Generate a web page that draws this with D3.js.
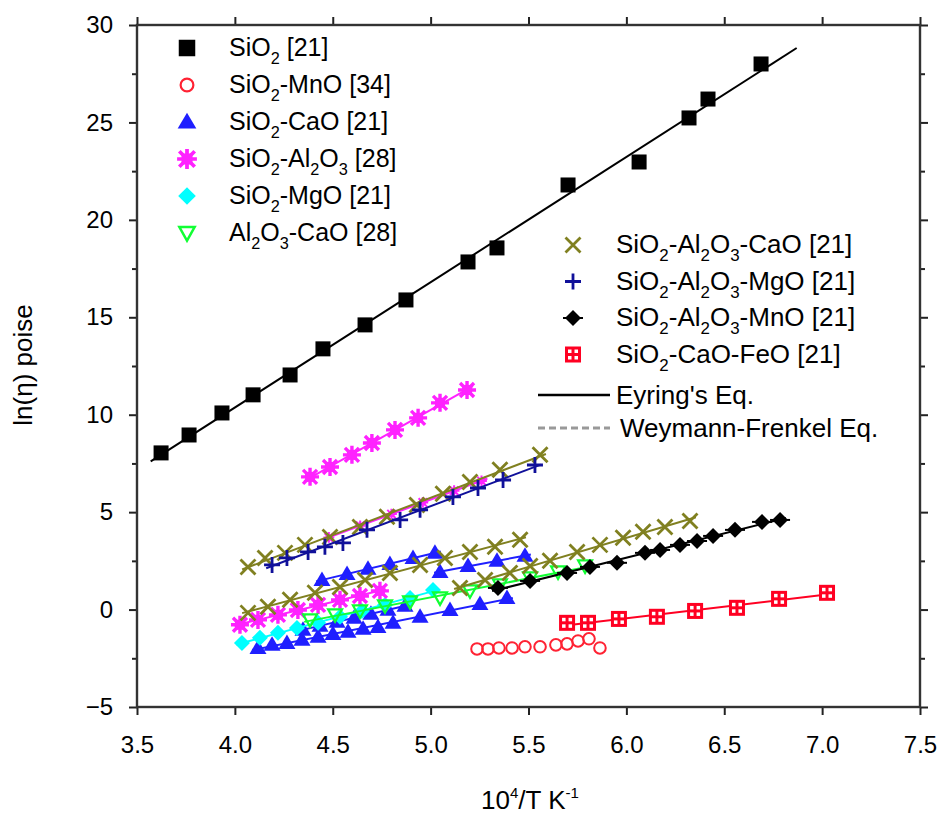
<!DOCTYPE html>
<html><head><meta charset="utf-8">
<script src="https://cdn.jsdelivr.net/npm/d3@7"></script>
<style>body{margin:0;background:#fff}svg{display:block}text{font-family:"Liberation Sans",Arial,sans-serif}</style>
</head><body><svg id="c" width="942" height="815"></svg>
<script>
// ---- Data (x = 10^4/T K^-1, y = ln(eta) poise) ----
const xTicks = [3.5,4.0,4.5,5.0,5.5,6.0,6.5,7.0,7.5];
const yTicks = [-5,0,5,10,15,20,25,30];
const yMinor = [-2.5,2.5,7.5,12.5,17.5,22.5,27.5];

const sio2X = [3.623,3.766,3.934,4.093,4.282,4.450,4.665,4.874,5.191,5.339,5.702,6.065,6.320,6.417,6.688];
const sio2Y = [8.04,8.96,10.09,11.02,12.04,13.38,14.61,15.89,17.84,18.56,21.79,22.97,25.23,26.20,28.0];
const sio2Fit = [3.57,6.87];

const mnoX = [5.237,5.293,5.349,5.416,5.482,5.559,5.640,5.697,5.753,5.809,5.865];
const mnoY = [-2.02,-2.02,-1.97,-1.97,-1.91,-1.91,-1.81,-1.76,-1.61,-1.50,-1.97];

const caoAX = [4.445,4.573,4.680,4.792,4.910,5.022];
const caoAY = [1.52,1.83,2.09,2.34,2.65,2.91];
const caoBX = [5.048,5.191,5.339,5.482];
const caoBY = [1.93,2.24,2.50,2.76];
const caoCX = [4.118,4.190,4.266,4.343,4.425,4.501,4.578,4.655,4.731,4.808,4.946,5.099,5.252,5.390];
const caoCY = [-1.97,-1.81,-1.71,-1.55,-1.40,-1.25,-1.14,-0.99,-0.89,-0.68,-0.37,-0.02,0.29,0.60];
const caoDX = [4.348,4.435,4.522,4.609,4.695,4.782,4.869];
const caoDY = [-1.04,-0.83,-0.62,-0.42,-0.22,-0.01,0.19];

const alAX = [4.384,4.486,4.598,4.700,4.818,4.936,5.048,5.186];
const alAY = [6.81,7.32,7.94,8.55,9.22,9.84,10.61,11.27];
const alBX = [4.026,4.118,4.220,4.322,4.425,4.537,4.639,4.741];
const alBY = [-0.78,-0.53,-0.27,-0.02,0.24,0.50,0.70,0.96];
const alCX = [4.48,4.64,4.80,4.96,5.12,5.26];
const alCY = [3.70,4.30,4.90,5.50,6.10,6.60];

const mgoX = [4.036,4.128,4.220,4.317,4.425,4.537,4.649,4.767,4.895,5.012];
const mgoY = [-1.71,-1.45,-1.19,-0.94,-0.68,-0.37,-0.07,0.24,0.60,1.01];

const alcaoX = [4.384,4.512,4.639,4.767,4.895,5.048,5.201,5.354,5.508,5.651,5.789];
const alcaoY = [-0.53,-0.27,-0.07,0.19,0.40,0.60,0.96,1.27,1.63,1.93,2.24];

const sacAX = [4.067,4.154,4.256,4.358,4.486,4.639,4.777,4.930,5.063,5.201,5.354,5.559];
const sacAY = [2.19,2.65,2.91,3.32,3.73,4.24,4.76,5.37,5.94,6.55,7.17,7.94];
const sacBX = [4.067,4.169,4.282,4.409,4.537,4.665,4.792,4.946,5.073,5.201,5.329,5.457];
const sacBY = [-0.17,0.14,0.50,0.86,1.16,1.52,1.88,2.29,2.65,2.96,3.22,3.58];
const sacCX = [5.150,5.278,5.405,5.508,5.610,5.748,5.865,5.983,6.085,6.197,6.325];
const sacCY = [1.11,1.52,1.88,2.24,2.50,2.96,3.32,3.68,3.99,4.24,4.55];

const samX = [4.190,4.266,4.374,4.460,4.552,4.675,4.844,4.946,5.114,5.242,5.370,5.533];
const samY = [2.29,2.65,2.96,3.22,3.42,4.09,4.60,5.12,5.78,6.24,6.65,7.42];

const samnX = [5.344,5.508,5.697,5.814,5.952,6.095,6.172,6.274,6.361,6.443,6.555,6.693,6.785];
const samnY = [1.11,1.47,1.88,2.19,2.40,2.91,3.06,3.32,3.52,3.78,4.09,4.50,4.60];

const feoX = [5.697,5.804,5.962,6.156,6.351,6.565,6.780,7.025];
const feoY = [-0.68,-0.68,-0.48,-0.37,-0.07,0.09,0.55,0.86];

const legend1Labels = ["SiO_2 [21]","SiO_2-MnO [34]","SiO_2-CaO [21]","SiO_2-Al_2O_3 [28]","SiO_2-MgO [21]","Al_2O_3-CaO [28]"];
const legend1Keys = ["sio2","mno","cao","al","mgo","alcao"];
const legend2Labels = ["SiO_2-Al_2O_3-CaO [21]","SiO_2-Al_2O_3-MgO [21]","SiO_2-Al_2O_3-MnO [21]","SiO_2-CaO-FeO [21]"];
const legend2Keys = ["sac","sam","samn","feo"];
const lineLabels = ["Eyring's Eq.","Weymann-Frenkel Eq."];

// ---- styles ----
const styles = {
  sio2:{color:"#000000", shape:"square"},
  mno:{color:"#ff2233", shape:"circle"},
  cao:{color:"#1f1fff", shape:"triangle"},
  al:{color:"#ff22ff", shape:"asterisk"},
  mgo:{color:"#00ffff", shape:"diamond"},
  alcao:{color:"#11ff33", shape:"itriangle"},
  sac:{color:"#808020", shape:"times"},
  sam:{color:"#10109a", shape:"plus"},
  samn:{color:"#000000", shape:"xdiamond"},
  feo:{color:"#ff0022", shape:"gridsq"}
};

const groups = [
  {k:"mno", x:mnoX, y:mnoY, fit:false},
  {k:"cao", x:caoCX, y:caoCY},
  {k:"cao", x:caoDX, y:caoDY},
  {k:"mgo", x:mgoX, y:mgoY},
  {k:"al", x:alBX, y:alBY},
  {k:"al", x:alCX, y:alCY, small:true},
  {k:"alcao", x:alcaoX, y:alcaoY},
  {k:"cao", x:caoAX, y:caoAY},
  {k:"cao", x:caoBX, y:caoBY},
  {k:"sac", x:sacBX, y:sacBY},
  {k:"sac", x:sacAX, y:sacAY},
  {k:"sam", x:samX, y:samY},
  {k:"sac", x:sacCX, y:sacCY},
  {k:"samn", x:samnX, y:samnY},
  {k:"feo", x:feoX, y:feoY},
  {k:"al", x:alAX, y:alAY},
  {k:"sio2", x:sio2X, y:sio2Y, range:sio2Fit}
];

// ---- chart ----
const svg = d3.select("#c");
const L=137, R=920, T=25, B=707;
const x = d3.scaleLinear().domain([3.5,7.5]).range([L,R]);
const y = d3.scaleLinear().domain([-5,30]).range([B,T]);

function drawMarker(g, shape, color, cx, cy, s){
  s = s||1;
  const n = g.append("g").attr("transform",`translate(${cx},${cy}) scale(${s})`);
  switch(shape){
    case "square": n.append("rect").attr("x",-7.5).attr("y",-7.5).attr("width",15).attr("height",15).attr("fill",color); break;
    case "circle": n.append("circle").attr("r",5.8).attr("fill","none").attr("stroke",color).attr("stroke-width",2); break;
    case "triangle": n.append("path").attr("d","M0,-8.5L8.5,6L-8.5,6Z").attr("fill",color); break;
    case "itriangle": n.append("path").attr("d","M-7,-5.5L7,-5.5L0,7Z").attr("fill","none").attr("stroke",color).attr("stroke-width",2.2); break;
    case "diamond": n.append("path").attr("d","M0,-8L8,0L0,8L-8,0Z").attr("fill",color); break;
    case "asterisk":
      n.append("path").attr("d","M-7,-7L7,7M7,-7L-7,7M0,-9L0,9M-9,0L9,0").attr("stroke",color).attr("stroke-width",3.4);
      n.append("rect").attr("x",-5).attr("y",-5).attr("width",10).attr("height",10).attr("fill",color); break;
    case "times": n.append("path").attr("d","M-7.5,-7.5L7.5,7.5M7.5,-7.5L-7.5,7.5").attr("stroke",color).attr("stroke-width",2.8); break;
    case "plus": n.append("path").attr("d","M-8,0L8,0M0,-8L0,8").attr("stroke",color).attr("stroke-width",2.8); break;
    case "xdiamond":
      n.append("path").attr("d","M0,-8L8,0L0,8L-8,0Z").attr("fill",color);
      n.append("path").attr("d","M-10,0L10,0").attr("stroke",color).attr("stroke-width",2); break;
    case "gridsq":
      n.append("rect").attr("x",-8).attr("y",-8).attr("width",16).attr("height",16).attr("fill",color);
      [[-5,-5],[1.5,-5],[-5,1.5],[1.5,1.5]].forEach(p=>n.append("rect").attr("x",p[0]).attr("y",p[1]).attr("width",3.5).attr("height",3.5).attr("fill","#fff"));
      break;
  }
  return n;
}

function fitLine(xs, ys){
  const mx=d3.mean(xs), my=d3.mean(ys);
  let sxy=0,sxx=0; xs.forEach((v,i)=>{sxy+=(v-mx)*(ys[i]-my); sxx+=(v-mx)*(v-mx);});
  const b=sxy/sxx; return {a:my-b*mx,b};
}

const plot = svg.append("g");
groups.forEach(gr=>{
  const st = styles[gr.k];
  if(gr.fit!==false){
    const f = fitLine(gr.x, gr.y);
    const r = gr.range || [d3.min(gr.x)-0.03, d3.max(gr.x)+0.03];
    plot.append("line").attr("x1",x(r[0])).attr("y1",y(f.a+f.b*r[0]))
      .attr("x2",x(r[1])).attr("y2",y(f.a+f.b*r[1]))
      .attr("stroke",st.color).attr("stroke-width",2);
  }
  gr.x.forEach((xv,i)=>drawMarker(plot, st.shape, st.color, x(xv), y(gr.y[i]), gr.small?0.6:1));
});

// ---- axes ----
const TF = 24;
const axB = d3.axisBottom(x).tickValues(xTicks).tickFormat(d3.format(".1f")).tickSize(8).tickPadding(21);
const gB = svg.append("g").attr("transform",`translate(0,${B})`).call(axB);
const axL = d3.axisLeft(y).tickValues(yTicks).tickFormat(d3.format("d")).tickSize(8).tickPadding(16);
const gL = svg.append("g").attr("transform",`translate(${L},0)`).call(axL);
const gLm = svg.append("g").attr("transform",`translate(${L},0)`).call(d3.axisLeft(y).tickValues(yMinor).tickFormat("").tickSize(5));
const gT = svg.append("g").attr("transform",`translate(0,${T})`).call(d3.axisTop(x).tickValues(xTicks).tickFormat("").tickSize(8));
const gR = svg.append("g").attr("transform",`translate(${R},0)`).call(d3.axisRight(y).tickValues(yTicks).tickFormat("").tickSize(8));
const gRm = svg.append("g").attr("transform",`translate(${R},0)`).call(d3.axisRight(y).tickValues(yMinor).tickFormat("").tickSize(5));
[gB,gL,gLm,gT,gR,gRm].forEach(g=>{
  g.select(".domain").remove();
  g.selectAll(".tick line").attr("stroke","#222").attr("stroke-width",2);
  g.selectAll(".tick text").attr("font-size",TF).attr("fill","#000").attr("font-family","Liberation Sans, Arial, sans-serif");
});
svg.append("rect").attr("x",L).attr("y",T).attr("width",R-L).attr("height",B-T)
  .attr("fill","none").attr("stroke","#333").attr("stroke-width",2.4);

// ---- rich text helper ----
function richText(sel, str, fs){
  const parts = str.split(/(_\d)/).filter(s=>s.length);
  let sub=false;
  const d = Math.round(fs*0.3);
  parts.forEach(p=>{
    if(p[0]==="_"){
      sel.append("tspan").attr("dy",d).attr("font-size",fs*0.65).text(p.slice(1));
      sub=true;
    } else {
      sel.append("tspan").attr("dy",sub?-d:0).text(p);
      sub=false;
    }
  });
}

// ---- legends ----
const FS=25, FS2=26;
const leg1 = svg.append("g");
legend1Keys.forEach((k,i)=>{
  const yy = 48 + i*37;
  drawMarker(leg1, styles[k].shape, styles[k].color, 187, yy, 1.1);
  const t = leg1.append("text").attr("x",229).attr("y",yy+8).attr("font-size",FS);
  richText(t, legend1Labels[i], FS);
});
const leg2 = svg.append("g");
legend2Keys.forEach((k,i)=>{
  const yy = 245 + i*36.5;
  drawMarker(leg2, styles[k].shape, styles[k].color, 573, yy, 1);
  const t = leg2.append("text").attr("x",616).attr("y",yy+8).attr("font-size",FS2);
  richText(t, legend2Labels[i], FS2);
});
leg2.append("line").attr("x1",538).attr("x2",610).attr("y1",395).attr("y2",395).attr("stroke","#000").attr("stroke-width",2.5);
leg2.append("text").attr("x",616).attr("y",404).attr("font-size",FS2).text(lineLabels[0]);
leg2.append("line").attr("x1",538).attr("x2",610).attr("y1",428).attr("y2",428).attr("stroke","#999").attr("stroke-width",3).attr("stroke-dasharray","7,4");
leg2.append("text").attr("x",620).attr("y",437).attr("font-size",FS2).text(lineLabels[1]);

// ---- axis titles ----
svg.append("text").attr("transform","translate(32,365) rotate(-90)").attr("text-anchor","middle").attr("font-size",26).text("ln(η) poise");
const xt = svg.append("text").attr("x",530).attr("y",809).attr("text-anchor","middle").attr("font-size",26);
xt.append("tspan").text("10");
xt.append("tspan").attr("dy",-11).attr("font-size",15).text("4");
xt.append("tspan").attr("dy",11).text("/T K");
xt.append("tspan").attr("dy",-11).attr("font-size",15).text("-1");
</script></body></html>
